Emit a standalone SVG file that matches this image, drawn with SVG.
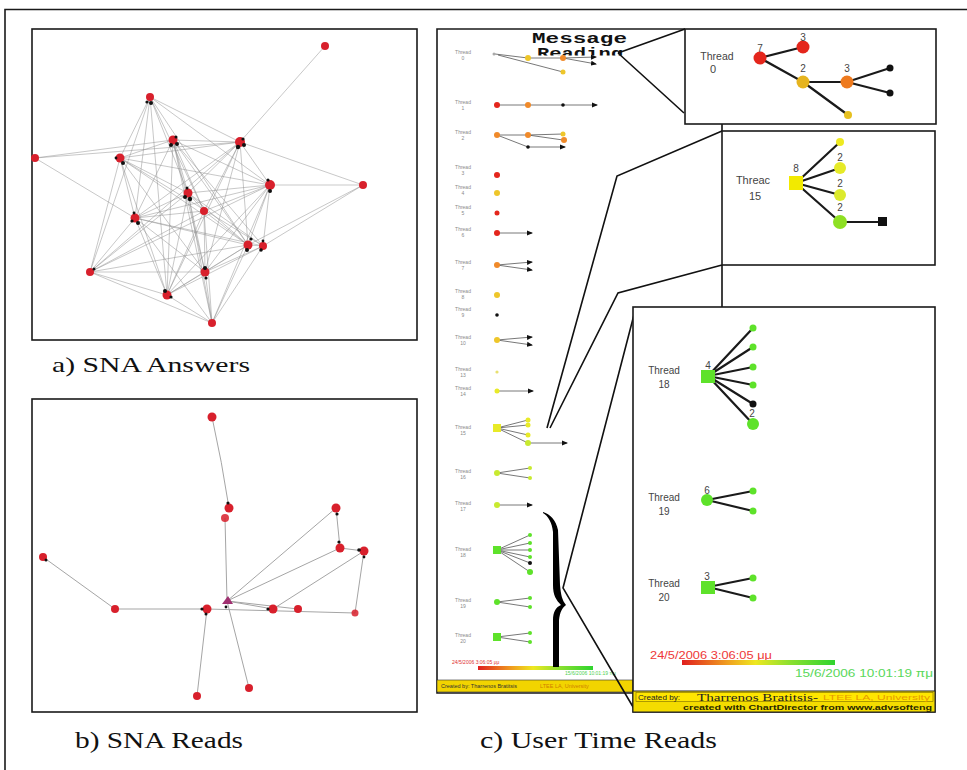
<svg xmlns="http://www.w3.org/2000/svg" width="967" height="770" viewBox="0 0 967 770">
<defs>
<style>
.frame{fill:#fff;stroke:#1a1a1a;stroke-width:1.6}
.net{fill:none;stroke:#8f8f8f;stroke-width:0.7;stroke-opacity:0.7}
.netb{fill:none;stroke:#a5a5a5;stroke-width:1}
.rn{fill:#d8202c}
.bk{fill:#111}
.cap{font-family:"Liberation Serif",serif;fill:#111}
.tl{font-family:"Liberation Sans",Arial,sans-serif;fill:#444;text-anchor:middle}
.mt{font-family:"Liberation Sans",Arial,sans-serif;fill:#8a8a8a;text-anchor:middle;font-size:5px}
.me{fill:none;stroke:#555;stroke-width:0.8}
.ze{fill:none;stroke:#1a1a1a;stroke-width:2.2}
.lead{fill:none;stroke:#111;stroke-width:1.6}
.red{fill:#e4261c}.ora{fill:#f08a2a}.yel{fill:#eec62a}.lyel{fill:#e8ea28}.yg{fill:#c8ea30}.grn{fill:#5ee22a}
</style>
<marker id="ar" markerUnits="userSpaceOnUse" markerWidth="6" markerHeight="6" refX="5" refY="3" orient="auto"><path d="M0,0.5L6,3L0,5.5z" fill="#111"/></marker>
<linearGradient id="grad" x1="0" x2="1" y1="0" y2="0">
<stop offset="0" stop-color="#e01e1e"/><stop offset="0.3" stop-color="#f0a020"/><stop offset="0.48" stop-color="#eee820"/><stop offset="0.7" stop-color="#8ee030"/><stop offset="1" stop-color="#2ed42e"/>
</linearGradient>
<clipPath id="clipR"><rect x="520" y="44" width="120" height="11.5"/></clipPath>
</defs>
<rect width="967" height="770" fill="#fff"/>
<path d="M5 770V9.5H967" fill="none" stroke="#1a1a1a" stroke-width="1.6"/>

<!-- Panel a -->
<g id="panel-a">
<rect class="frame" x="32" y="29" width="385" height="311"/>
<g id="a-edges">
<path class="net" d="M325 46L240 142M35 158L173 140M35 158L240 142M35 158L135 218M363 185L240 142M363 185L270 185M363 185L263 246M363 185L248 245M150 97L240 142M150 97L120 158M150 97L188 193M150 97L270 185M150 97L204 211M150 97L135 218M150 97L90 272M150 97L167 295M150 97L248 245M173 140L240 142M173 140L120 158M173 140L188 193M173 140L270 185M173 140L204 211M173 140L135 218M173 140L248 245M173 140L263 246M173 140L205 272M173 140L167 295M173 140L212 323M240 142L120 158M240 142L188 193M240 142L270 185M240 142L204 211M240 142L135 218M240 142L90 272M240 142L205 272M240 142L167 295M240 142L248 245M120 158L188 193M120 158L270 185M120 158L135 218M120 158L248 245M120 158L263 246M120 158L90 272M120 158L205 272M120 158L167 295M188 193L270 185M188 193L204 211M188 193L135 218M188 193L248 245M188 193L263 246M188 193L90 272M188 193L205 272M188 193L167 295M188 193L212 323M270 185L204 211M270 185L135 218M270 185L248 245M270 185L263 246M270 185L90 272M270 185L205 272M270 185L167 295M270 185L212 323M204 211L135 218M204 211L248 245M204 211L90 272M204 211L205 272M204 211L167 295M204 211L212 323M135 218L248 245M135 218L263 246M135 218L90 272M135 218L205 272M135 218L167 295M135 218L212 323M248 245L263 246M248 245L90 272M248 245L205 272M248 245L167 295M248 245L212 323M263 246L205 272M263 246L212 323M263 246L167 295M90 272L205 272M90 272L167 295M90 272L212 323M205 272L167 295M205 272L212 323M167 295L212 323"/>
</g>
<g id="a-n1"><circle class="rn" cx="325" cy="46" r="4"/></g>
<g id="a-n2"><circle class="rn" cx="150" cy="97" r="4"/><circle class="bk" cx="151" cy="103" r="2"/><circle class="bk" cx="147" cy="102" r="1.6"/></g>
<g id="a-n3"><circle class="rn" cx="173" cy="140" r="4.5"/><circle class="bk" cx="171" cy="145" r="2"/><circle class="bk" cx="177" cy="144" r="2"/><circle class="bk" cx="176" cy="137" r="1.5"/></g>
<g id="a-n4"><circle class="rn" cx="240" cy="142" r="5"/><circle class="bk" cx="238" cy="147" r="2.2"/><circle class="bk" cx="244" cy="145" r="2"/><circle class="bk" cx="243" cy="139" r="1.6"/></g>
<g id="a-n5"><circle class="rn" cx="35" cy="158" r="4"/></g>
<g id="a-n6"><circle class="rn" cx="120" cy="158" r="4.5"/><circle class="bk" cx="123" cy="163" r="2"/><circle class="bk" cx="116" cy="158" r="1.4"/></g>
<g id="a-n7"><circle class="rn" cx="188" cy="193" r="4.5"/><circle class="bk" cx="190" cy="199" r="2.2"/><circle class="bk" cx="185" cy="197" r="2"/><circle class="bk" cx="187" cy="188" r="1.5"/></g>
<g id="a-n8"><circle class="rn" cx="270" cy="185" r="5"/><circle class="bk" cx="270" cy="191" r="2"/><circle class="bk" cx="268" cy="180" r="1.6"/></g>
<g id="a-n9"><circle class="rn" cx="363" cy="185" r="4"/></g>
<g id="a-n10"><circle class="rn" cx="204" cy="211" r="4"/></g>
<g id="a-n11"><circle class="rn" cx="135" cy="218" r="4.5"/><circle class="bk" cx="138" cy="223" r="2"/><circle class="bk" cx="132" cy="221" r="1.6"/><circle class="bk" cx="134" cy="213" r="1.4"/></g>
<g id="a-n12"><circle class="rn" cx="248" cy="245" r="4.5"/><circle class="bk" cx="247" cy="250" r="2"/><circle class="bk" cx="251" cy="239" r="1.6"/></g>
<g id="a-n13"><circle class="rn" cx="263" cy="246" r="4"/><circle class="bk" cx="261" cy="250" r="1.8"/><circle class="bk" cx="263" cy="241" r="1.4"/></g>
<g id="a-n14"><circle class="rn" cx="90" cy="272" r="4"/><circle class="bk" cx="94" cy="269" r="1.5"/></g>
<g id="a-n15"><circle class="rn" cx="205" cy="272" r="4.5"/><circle class="bk" cx="205" cy="268" r="2"/><circle class="bk" cx="206" cy="278" r="1.6"/></g>
<g id="a-n16"><circle class="rn" cx="167" cy="295" r="4.5"/><circle class="bk" cx="165" cy="291" r="2"/><circle class="bk" cx="171" cy="297" r="1.6"/></g>
<g id="a-n17"><circle class="rn" cx="212" cy="323" r="4"/></g>
</g>
<text class="cap" x="52" y="372" font-size="22" textLength="198" lengthAdjust="spacingAndGlyphs">a) SNA Answers</text>

<!-- Panel b -->
<g id="panel-b">
<rect class="frame" x="32" y="399" width="385" height="313"/>
<g id="b-edges">
<path class="netb" d="M212 417Q222 462 229 508M225 518L227 601M336 508L340 548M336 508L227 601M340 548L227 601M364 551L273 609M364 551L355 613M43 557L115 609M115 609L207 609M207 609L355 613M227 601L273 609M227 601L298 609M197 696L207 609M249 688L227 601M340 548L364 551"/>
</g>
<g id="b-n1"><circle class="rn" cx="212" cy="417" r="4.5"/></g>
<g id="b-n2"><circle class="rn" cx="229" cy="508" r="4.5"/><circle class="bk" cx="228" cy="503" r="1.6"/></g>
<g id="b-n3"><circle class="rn" cx="225" cy="518" r="4" fill-opacity="0.85"/></g>
<g id="b-n4"><circle class="rn" cx="336" cy="508" r="4.5"/><circle class="bk" cx="337" cy="514" r="1.6"/></g>
<g id="b-n5"><circle class="rn" cx="340" cy="548" r="4.5"/><circle class="bk" cx="339" cy="542" r="1.6"/></g>
<g id="b-n6"><circle class="rn" cx="364" cy="551" r="4.5"/><circle class="bk" cx="359" cy="550" r="1.8"/><circle class="bk" cx="364" cy="557" r="1.4"/></g>
<g id="b-n7"><circle class="rn" cx="43" cy="557" r="4"/><circle class="bk" cx="46" cy="560" r="1.5"/></g>
<g id="b-n8"><circle class="rn" cx="115" cy="609" r="4"/></g>
<g id="b-n9"><circle class="rn" cx="207" cy="609" r="4.5"/><circle class="bk" cx="202" cy="609" r="1.6"/><circle class="bk" cx="206" cy="614" r="1.5"/></g>
<g id="b-n10"><path d="M222 604L228 596L233 604Z" fill="#a03070"/><circle class="bk" cx="226" cy="607" r="1.4"/></g>
<g id="b-n11"><circle class="rn" cx="273" cy="609" r="4.5"/><circle class="bk" cx="268" cy="609" r="1.6"/></g>
<g id="b-n12"><circle class="rn" cx="298" cy="609" r="4"/></g>
<g id="b-n13"><circle class="rn" cx="355" cy="613" r="3.5" fill-opacity="0.85"/></g>
<g id="b-n14"><circle class="rn" cx="197" cy="696" r="4"/></g>
<g id="b-n15"><circle class="rn" cx="249" cy="688" r="4"/></g>
</g>
<text class="cap" x="75" y="748" font-size="23" textLength="168" lengthAdjust="spacingAndGlyphs">b) SNA Reads</text>

<!-- Panel c : message reading chart -->
<g id="panel-c">
<path d="M633 693H437V29H685" fill="none" stroke="#1a1a1a" stroke-width="1.6"/>
<text x="532" y="43" font-family="Liberation Mono,monospace" font-weight="bold" font-size="14" textLength="95" lengthAdjust="spacingAndGlyphs" fill="#111">Message</text>
<text x="537" y="58" clip-path="url(#clipR)" font-family="Liberation Mono,monospace" font-weight="bold" font-size="14" textLength="86" lengthAdjust="spacingAndGlyphs" fill="#111">Reading</text>

<g id="c-labels">
<text class="mt" x="463" y="54">Thread</text><text class="mt" x="463" y="60">0</text>
<text class="mt" x="463" y="104">Thread</text><text class="mt" x="463" y="110">1</text>
<text class="mt" x="463" y="134">Thread</text><text class="mt" x="463" y="140">2</text>
<text class="mt" x="463" y="169">Thread</text><text class="mt" x="463" y="175">3</text>
<text class="mt" x="463" y="189">Thread</text><text class="mt" x="463" y="195">4</text>
<text class="mt" x="463" y="209">Thread</text><text class="mt" x="463" y="215">5</text>
<text class="mt" x="463" y="231">Thread</text><text class="mt" x="463" y="237">6</text>
<text class="mt" x="463" y="264">Thread</text><text class="mt" x="463" y="270">7</text>
<text class="mt" x="463" y="293">Thread</text><text class="mt" x="463" y="299">8</text>
<text class="mt" x="463" y="311">Thread</text><text class="mt" x="463" y="317">9</text>
<text class="mt" x="463" y="339">Thread</text><text class="mt" x="463" y="345">10</text>
<text class="mt" x="463" y="371">Thread</text><text class="mt" x="463" y="377">13</text>
<text class="mt" x="463" y="390">Thread</text><text class="mt" x="463" y="396">14</text>
<text class="mt" x="463" y="429">Thread</text><text class="mt" x="463" y="435">15</text>
<text class="mt" x="463" y="473">Thread</text><text class="mt" x="463" y="479">16</text>
<text class="mt" x="463" y="505">Thread</text><text class="mt" x="463" y="511">17</text>
<text class="mt" x="463" y="551">Thread</text><text class="mt" x="463" y="557">18</text>
<text class="mt" x="463" y="602">Thread</text><text class="mt" x="463" y="608">19</text>
<text class="mt" x="463" y="637">Thread</text><text class="mt" x="463" y="643">20</text>
</g>

<g id="c-thread0">
<path class="me" d="M495 54L528 58M498 55L563 72"/><path class="me" d="M528 58L563 58"/>
<path class="me" marker-end="url(#ar)" d="M563 58L596 57"/><path class="me" marker-end="url(#ar)" d="M563 58L596 64"/>
<circle cx="494" cy="54" r="1.5" fill="#aaa"/><circle class="yel" cx="528" cy="58" r="3"/><circle class="ora" cx="563" cy="58" r="3"/><circle class="yel" cx="563" cy="72" r="2.5"/>
</g>
<g id="c-thread1">
<path class="me" d="M497 105H563"/><path class="me" marker-end="url(#ar)" d="M563 105H597"/>
<circle class="red" cx="497" cy="105" r="3"/><circle class="ora" cx="528" cy="105" r="3"/><circle cx="563" cy="105" r="1.8" fill="#111"/>
</g>
<g id="c-thread2">
<path class="me" d="M497 135H528L563 140M528 135L563 134M497 135L528 147"/><path class="me" marker-end="url(#ar)" d="M528 147H565"/>
<circle class="ora" cx="497" cy="135" r="3"/><circle class="ora" cx="528" cy="135" r="3"/><circle class="yel" cx="563" cy="134" r="2.5"/><circle class="ora" cx="564" cy="140" r="3"/><circle cx="528" cy="147" r="1.8" fill="#111"/>
</g>
<g id="c-thread3"><circle class="red" cx="497" cy="175" r="3"/></g>
<g id="c-thread4"><circle class="yel" cx="497" cy="193" r="3"/></g>
<g id="c-thread5"><circle class="red" cx="497" cy="213" r="2.5"/></g>
<g id="c-thread6"><path class="me" marker-end="url(#ar)" d="M497 233H532"/><circle class="red" cx="497" cy="233" r="3"/></g>
<g id="c-thread7"><path class="me" marker-end="url(#ar)" d="M497 265L532 262"/><path class="me" marker-end="url(#ar)" d="M497 265L532 270"/><circle class="ora" cx="497" cy="265" r="3"/></g>
<g id="c-thread8"><circle class="yel" cx="497" cy="295" r="3"/></g>
<g id="c-thread9"><circle cx="497" cy="315" r="1.8" fill="#111"/></g>
<g id="c-thread10"><path class="me" marker-end="url(#ar)" d="M497 340L532 337"/><path class="me" marker-end="url(#ar)" d="M497 340L532 345"/><circle class="yel" cx="497" cy="340" r="3"/></g>
<g id="c-thread13"><circle cx="497" cy="372" r="1.6" fill="#e8e070"/></g>
<g id="c-thread14"><path class="me" marker-end="url(#ar)" d="M497 391H533"/><circle class="lyel" cx="497" cy="391" r="2.5"/></g>
<g id="c-thread15">
<path class="me" d="M497 428L528 420M497 428L528 425M497 428L528 435M497 428L528 443"/><path class="me" marker-end="url(#ar)" d="M528 443H567"/>
<rect class="lyel" x="493" y="424" width="8" height="8"/><circle class="lyel" cx="528" cy="420" r="2.5"/><circle class="lyel" cx="528" cy="425" r="2.5"/><circle class="lyel" cx="528" cy="435" r="2.5"/><circle class="yg" cx="528" cy="443" r="3"/>
</g>
<g id="c-thread16"><path class="me" d="M497 473L530 468M497 473L530 478"/><circle class="yg" cx="497" cy="473" r="3"/><circle class="yg" cx="530" cy="468" r="2"/><circle class="yg" cx="530" cy="478" r="2"/></g>
<g id="c-thread17"><path class="me" marker-end="url(#ar)" d="M497 505H532"/><circle class="yg" cx="497" cy="505" r="3"/></g>
<g id="c-thread18">
<path class="me" d="M497 550L530 535M497 550L530 543M497 550L530 550M497 550L530 557M497 550L530 563M497 550L530 572"/>
<rect class="grn" x="493" y="546" width="8" height="8"/><circle class="grn" cx="530" cy="535" r="2"/><circle class="grn" cx="530" cy="543" r="2"/><circle class="grn" cx="530" cy="550" r="2"/><circle class="grn" cx="530" cy="557" r="2"/><circle cx="530" cy="563" r="2" fill="#111"/><circle class="grn" cx="530" cy="572" r="3"/>
</g>
<g id="c-thread19"><path class="me" d="M497 602L530 598M497 602L530 607"/><circle class="grn" cx="497" cy="602" r="3"/><circle class="grn" cx="530" cy="598" r="2"/><circle class="grn" cx="530" cy="607" r="2"/></g>
<g id="c-thread20"><path class="me" d="M497 637L530 633M497 637L530 642"/><rect class="grn" x="493" y="633" width="8" height="8"/><circle class="grn" cx="530" cy="633" r="2"/><circle class="grn" cx="530" cy="642" r="2"/></g>

<text x="452" y="664" font-family="Liberation Sans,sans-serif" font-size="5" fill="#e03030">24/5/2006 3:06:05 μμ</text>
<rect x="478" y="666" width="115" height="4" fill="url(#grad)"/>
<text x="565" y="675" font-family="Liberation Sans,sans-serif" font-size="5" fill="#50d050">15/6/2006 10:01:19 πμ</text>
<rect x="437" y="680" width="196" height="12" fill="#f2d400" stroke="#333" stroke-width="0.6"/>
<text x="441" y="688" font-family="Liberation Sans,sans-serif" font-size="5.5" fill="#333">Created by: Tharrenos Bratitsis</text>
<text x="540" y="688" font-family="Liberation Sans,sans-serif" font-size="5.5" fill="#d08000">LTEE LA, University</text>

<path id="c-brace" d="M543 512C550 514 556 520 558 530L560 585C561 595 562 600 566 605C562 608 560 612 559 620L559 667L553 667L553 620C553 612 556 607 561 605C556 600 553 595 553 585L553 532C552 522 548 516 543 513Z" fill="#000"/>
</g>

<!-- Leader lines -->
<g id="leaders">
<path class="lead" d="M618 53L685 29M618 53L684 113"/>
<path class="lead" d="M547 428L617 176L722 131"/>
<path class="lead" d="M550 428L618 293L722 265"/>
<path class="lead" d="M722 124V131M722 265V307"/>
<path class="lead" d="M636 307L563 588L636 712"/>
</g>

<!-- Zoom box Thread 0 -->
<g id="box-thread0">
<rect class="frame" x="685" y="29" width="251" height="95"/>
<text class="tl" x="717" y="60" font-size="10.5">Thread</text>
<text class="tl" x="713" y="73" font-size="11">0</text>
<path class="ze" d="M760 58L803 47M760 58L803 82L847 82L890 68M847 82L890 93M803 82L848 115"/>
<circle class="red" cx="760" cy="58" r="6.5"/><circle class="red" cx="803" cy="47" r="6.5"/><circle cx="803" cy="82" r="6.5" fill="#e6b41e"/><circle cx="847" cy="82" r="6.5" fill="#ee7a1e"/>
<circle cx="890" cy="68" r="3.5" fill="#111"/><circle cx="890" cy="93" r="3.5" fill="#111"/><circle cx="848" cy="115" r="4" fill="#e6c020"/>
<text class="tl" x="760" y="52" font-size="10">7</text><text class="tl" x="803" y="41" font-size="10">3</text><text class="tl" x="803" y="72" font-size="10">2</text><text class="tl" x="847" y="72" font-size="10">3</text>
</g>

<!-- Zoom box Thread 15 -->
<g id="box-thread15">
<rect class="frame" x="722" y="131" width="213" height="134"/>
<text class="tl" x="753" y="184" font-size="11">Threac</text>
<text class="tl" x="755" y="200" font-size="11">15</text>
<path class="ze" d="M796 183L840 142M796 183L840 168M796 183L840 195M796 183L840 222L882 222"/>
<rect x="789" y="176" width="14" height="14" fill="#f2ea00"/>
<circle cx="840" cy="142" r="4" fill="#eeea20"/><circle cx="840" cy="168" r="6" fill="#e6ea28"/><circle cx="840" cy="195" r="6" fill="#dcea2c"/><circle cx="840" cy="222" r="7" fill="#8ee024"/>
<rect x="878" y="217" width="9" height="9" fill="#111"/>
<text class="tl" x="796" y="172" font-size="10">8</text><text class="tl" x="840" y="161" font-size="10">2</text><text class="tl" x="840" y="187" font-size="10">2</text><text class="tl" x="840" y="211" font-size="10">2</text>
</g>

<!-- Zoom box Threads 18-20 -->
<g id="box-thread18-20">
<rect class="frame" x="633" y="307" width="302" height="405"/>
<g id="z-thread18">
<text class="tl" x="664" y="374" font-size="10">Thread</text><text class="tl" x="664" y="388" font-size="10">18</text>
<path class="ze" d="M708 376L753 328M708 376L753 347M708 376L753 367M708 376L753 385M708 376L753 404M708 376L753 424"/>
<rect class="grn" x="701" y="370" width="14" height="13"/>
<circle class="grn" cx="753" cy="328" r="3.5"/><circle class="grn" cx="753" cy="347" r="3.5"/><circle class="grn" cx="753" cy="367" r="3.5"/><circle class="grn" cx="753" cy="385" r="3.5"/><circle cx="753" cy="404" r="3.5" fill="#111"/><circle class="grn" cx="753" cy="424" r="6"/>
<text class="tl" x="708" y="369" font-size="10">4</text><text class="tl" x="752" y="417" font-size="10">2</text>
</g>
<g id="z-thread19">
<text class="tl" x="664" y="501" font-size="10">Thread</text><text class="tl" x="664" y="515" font-size="10">19</text>
<path class="ze" d="M707 500L753 491M707 500L753 511"/>
<circle class="grn" cx="707" cy="500" r="6"/><circle class="grn" cx="753" cy="491" r="3.5"/><circle class="grn" cx="753" cy="511" r="3.5"/>
<text class="tl" x="707" y="494" font-size="10">6</text>
</g>
<g id="z-thread20">
<text class="tl" x="664" y="587" font-size="10">Thread</text><text class="tl" x="664" y="601" font-size="10">20</text>
<path class="ze" d="M708 587L753 578M708 587L753 598"/>
<rect class="grn" x="701" y="581" width="14" height="13"/><circle class="grn" cx="753" cy="578" r="3.5"/><circle class="grn" cx="753" cy="598" r="3.5"/>
<text class="tl" x="707" y="580" font-size="10">3</text>
</g>
<text x="650" y="659" font-family="Liberation Sans,sans-serif" font-size="11" fill="#ee3838" textLength="122" lengthAdjust="spacingAndGlyphs">24/5/2006 3:06:05 μμ</text>
<rect x="682" y="660" width="153" height="5" fill="url(#grad)"/>
<text x="933" y="677" text-anchor="end" font-family="Liberation Sans,sans-serif" font-size="11" fill="#5ad85a" textLength="138" lengthAdjust="spacingAndGlyphs">15/6/2006 10:01:19 πμ</text>
<rect x="633" y="691" width="302" height="21" fill="#f4dc00" stroke="#222" stroke-width="1"/>
<rect x="636" y="692.5" width="297" height="9" fill="#ffe600" stroke="#7a6a00" stroke-width="0.6"/>
<text x="638" y="700" font-family="Liberation Sans,sans-serif" font-size="7" fill="#222" textLength="42" lengthAdjust="spacingAndGlyphs">Created by:</text>
<text x="697" y="700.5" font-family="Liberation Serif,serif" font-size="10" fill="#222" textLength="121" lengthAdjust="spacingAndGlyphs">Tharrenos Bratitsis-</text>
<text x="823" y="700" font-family="Liberation Sans,sans-serif" font-size="7.5" fill="#e89a00" textLength="107" lengthAdjust="spacingAndGlyphs">LTEE LA, University</text>
<text x="932" y="710" text-anchor="end" font-family="Liberation Sans,sans-serif" font-size="7" font-weight="bold" fill="#2a2a00" textLength="249" lengthAdjust="spacingAndGlyphs">created with ChartDirector from www.advsofteng</text>
</g>

<text class="cap" x="480" y="748" font-size="23" textLength="237" lengthAdjust="spacingAndGlyphs">c) User Time Reads</text>
</svg>
